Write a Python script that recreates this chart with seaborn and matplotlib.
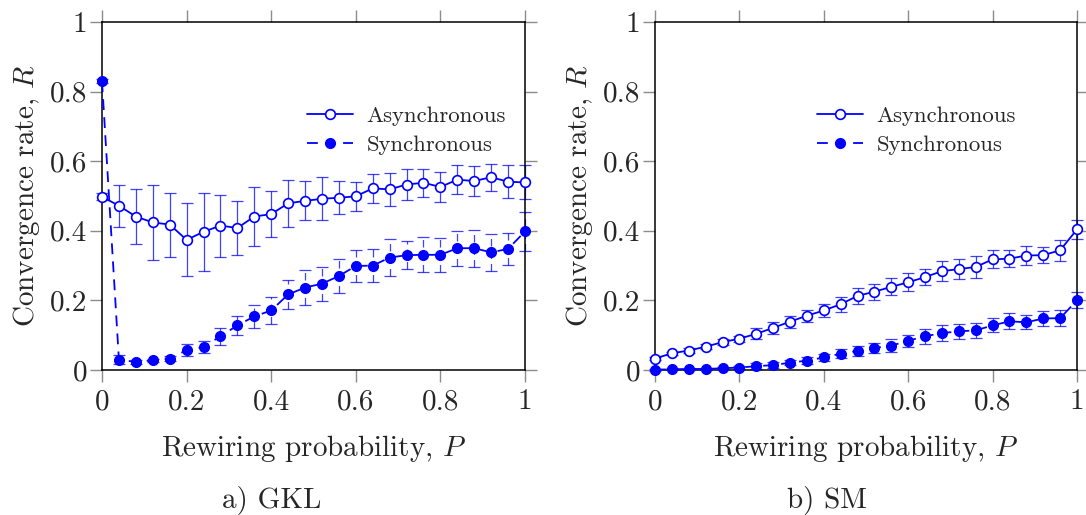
import numpy as np
import pandas as pd
import matplotlib
matplotlib.use("Agg")
import matplotlib.pyplot as plt
import seaborn as sns
from matplotlib.ticker import FuncFormatter

# ---------------- data ----------------
P = [0.00, 0.04, 0.08, 0.12, 0.16, 0.20, 0.24, 0.28, 0.32, 0.36, 0.40, 0.44, 0.48,
     0.52, 0.56, 0.60, 0.64, 0.68, 0.72, 0.76, 0.80, 0.84, 0.88, 0.92, 0.96, 1.00]

gkl_async = [0.498, 0.472, 0.441, 0.424, 0.418, 0.374, 0.397, 0.415, 0.408, 0.441, 0.448, 0.479, 0.486,
             0.492, 0.495, 0.499, 0.522, 0.519, 0.533, 0.538, 0.526, 0.547, 0.543, 0.554, 0.541, 0.539]
gkl_async_err = [0.010, 0.061, 0.080, 0.109, 0.092, 0.105, 0.112, 0.089, 0.077, 0.085, 0.066, 0.068, 0.056,
                 0.062, 0.047, 0.041, 0.041, 0.047, 0.045, 0.041, 0.042, 0.041, 0.044, 0.039, 0.047, 0.049]
gkl_sync = [0.830, 0.030, 0.023, 0.028, 0.033, 0.057, 0.066, 0.097, 0.128, 0.154, 0.171, 0.217, 0.237,
            0.248, 0.270, 0.299, 0.300, 0.323, 0.330, 0.331, 0.331, 0.350, 0.350, 0.338, 0.348, 0.398]
gkl_sync_err = [0.006, 0.014, 0.005, 0.005, 0.008, 0.018, 0.018, 0.024, 0.027, 0.034, 0.038, 0.041, 0.050,
                0.049, 0.048, 0.045, 0.047, 0.053, 0.041, 0.050, 0.048, 0.050, 0.053, 0.053, 0.045, 0.057]

sm_async = [0.033, 0.048, 0.056, 0.067, 0.080, 0.090, 0.104, 0.121, 0.139, 0.156, 0.171, 0.189, 0.213,
            0.225, 0.239, 0.252, 0.267, 0.284, 0.290, 0.296, 0.318, 0.320, 0.329, 0.330, 0.344, 0.404]
sm_async_err = [0.005, 0.005, 0.006, 0.007, 0.008, 0.009, 0.016, 0.017, 0.017, 0.017, 0.018, 0.022, 0.024,
                0.023, 0.024, 0.026, 0.024, 0.029, 0.028, 0.032, 0.026, 0.025, 0.028, 0.023, 0.030, 0.027]
sm_sync = [0.001, 0.002, 0.003, 0.003, 0.005, 0.007, 0.011, 0.014, 0.021, 0.027, 0.036, 0.047, 0.055,
           0.063, 0.070, 0.084, 0.097, 0.106, 0.111, 0.114, 0.128, 0.140, 0.137, 0.148, 0.149, 0.200]
sm_sync_err = [0.003, 0.003, 0.003, 0.003, 0.003, 0.004, 0.008, 0.008, 0.008, 0.010, 0.010, 0.012, 0.014,
               0.015, 0.018, 0.017, 0.022, 0.024, 0.021, 0.021, 0.020, 0.023, 0.020, 0.022, 0.023, 0.023]

ticks = [0, 0.2, 0.4, 0.6, 0.8, 1.0]
panel_titles = ["a) GKL", "b) SM"]
series_labels = ["Asynchronous", "Synchronous"]
xlabel = "Rewiring probability, $P$"
ylabel = "Convergence rate, $R$"

# ---------------- style ----------------
sns.set_style("ticks")
plt.rcParams["font.family"] = ["cmr10", "DejaVu Serif"]
plt.rcParams["mathtext.fontset"] = "cm"
plt.rcParams["axes.formatter.use_mathtext"] = True
plt.rcParams["axes.unicode_minus"] = False

BLUE = "#0000ff"
DASH = (0, (6, 4))
FS = 21

fig = plt.figure(figsize=(10.86, 5.15), dpi=100)
axes = [fig.add_axes([102 / 1086, 145 / 515, 423 / 1086, 348 / 515]),
        fig.add_axes([655 / 1086, 145 / 515, 422 / 1086, 348 / 515])]

panels = [(gkl_async, gkl_async_err, gkl_sync, gkl_sync_err),
          (sm_async, sm_async_err, sm_sync, sm_sync_err)]
legend_x = [0.458, 0.357]
title_x = [272 / 1086, 827 / 1086]

for i, (ax, (a, ae, s, se)) in enumerate(zip(axes, panels)):
    df = pd.DataFrame({"P": P, "async": a, "sync": s})
    # error bars
    ax.errorbar(P, a, yerr=ae, fmt="none", ecolor=BLUE, elinewidth=0.9,
                capsize=4, capthick=0.9, alpha=0.75, clip_on=False, zorder=2)
    eb = ax.errorbar(P, s, yerr=se, fmt="none", ecolor=BLUE, elinewidth=0.9,
                     capsize=4, capthick=0.9, alpha=0.75, clip_on=False, zorder=2)
    eb[2][0].set_linestyle(DASH)
    # lines
    sns.lineplot(data=df, x="P", y="async", ax=ax, color=BLUE, lw=1.3,
                 marker="o", markersize=7, markerfacecolor="white",
                 markeredgecolor=BLUE, markeredgewidth=1.2, estimator=None,
                 label=series_labels[0], clip_on=False, zorder=3)
    sns.lineplot(data=df, x="P", y="sync", ax=ax, color=BLUE, lw=1.3,
                 linestyle=DASH, marker="o", markersize=7, markerfacecolor=BLUE,
                 markeredgecolor=BLUE, markeredgewidth=1.0, estimator=None,
                 label=series_labels[1], clip_on=False, zorder=3)

    ax.set_xlim(0, 1)
    ax.set_ylim(0, 1)
    ax.set_xticks(ticks)
    ax.set_yticks(ticks)
    fmt = FuncFormatter(lambda v, pos: f"{v:g}")
    ax.xaxis.set_major_formatter(fmt)
    ax.yaxis.set_major_formatter(fmt)
    ax.tick_params(direction="out", top=True, right=True, length=8.5,
                   width=1.0, color="#8c8c8c", labelsize=FS)
    ax.tick_params(axis="x", pad=5)
    ax.tick_params(axis="y", pad=2)
    for sp in ax.spines.values():
        sp.set_visible(True)
        sp.set_color("black")
        sp.set_linewidth(1.1)
    ax.set_xlabel(xlabel, fontsize=FS, labelpad=13)
    ax.set_ylabel(ylabel, fontsize=FS, labelpad=6)
    ax.legend(loc="upper left", bbox_to_anchor=(legend_x[i], 0.79),
              frameon=False, fontsize=16.4, handlelength=2.0,
              handletextpad=0.6, labelspacing=0.38, borderpad=0)
    fig.text(title_x[i], 0.029, panel_titles[i], fontsize=FS,
             ha="center", va="center")

fig.savefig("out.png", dpi=100)
